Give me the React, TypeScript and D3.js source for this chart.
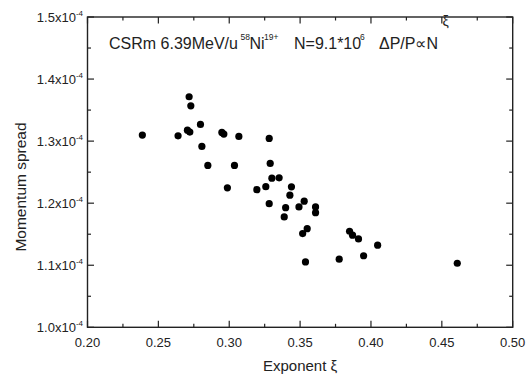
import * as d3 from 'd3';

// Exponent ξ for each measurement
const xi = [
  0.2387, 0.2639, 0.2705, 0.2722, 0.2717, 0.2729, 0.2797, 0.2807, 0.2849, 0.2948,
  0.2962, 0.2987, 0.3037, 0.3068, 0.3282, 0.3289, 0.3301, 0.3352, 0.3195, 0.3258,
  0.3282, 0.3439, 0.3428, 0.3398, 0.3388, 0.3492, 0.3529, 0.3609, 0.3609, 0.3550,
  0.3518, 0.3538, 0.3776, 0.3849, 0.3870, 0.3912, 0.4047, 0.3948, 0.4609,
];

// Momentum spread, in units of 1e-4
const spread = [
  1.3097, 1.3085, 1.3177, 1.3145, 1.3715, 1.3569, 1.3269, 1.2915, 1.2608, 1.3140,
  1.3113, 1.2247, 1.2608, 1.3076, 1.3044, 1.2640, 1.2403, 1.2408, 1.2218, 1.2266,
  1.1992, 1.2263, 1.2129, 1.1927, 1.1779, 1.1940, 1.2032, 1.1939, 1.1847, 1.1589,
  1.1511, 1.1053, 1.1097, 1.1548, 1.1484, 1.1424, 1.1323, 1.1153, 1.1032,
];

const xTicks = [0.2, 0.25, 0.3, 0.35, 0.4, 0.45, 0.5];
const yTicks = [1.0, 1.1, 1.2, 1.3, 1.4, 1.5];

const font = "'Liberation Sans', Arial, sans-serif";
const ink = '#222';

export default function App() {
  const W = 529;
  const H = 376;
  const left = 87.5, right = 512.7, top = 17, bottom = 327.3;

  const x = d3.scaleLinear().domain([0.2, 0.5]).range([left, right]);
  const y = d3.scaleLinear().domain([1.0, 1.5]).range([bottom, top]);

  const xMinor = d3.range(0.225, 0.5, 0.05);
  const yMinor = d3.range(1.05, 1.5, 0.1);
  const major = 6.5;
  const minor = 3.5;

  const pts = xi.map((v, i) => ({ x: v, y: spread[i] }));

  return (
    <svg width={W} height={H} style={{ position: 'absolute', left: 0, top: 0 }} fontFamily={font}>
      <rect width={W} height={H} fill="#fff" />

      {/* ticks, all four sides, pointing in */}
      <g stroke={ink} strokeWidth={1.2}>
        {xTicks.map(t => (
          <g key={'xt' + t}>
            <line x1={x(t)} x2={x(t)} y1={bottom} y2={bottom - major} />
            <line x1={x(t)} x2={x(t)} y1={top} y2={top + major} />
          </g>
        ))}
        {xMinor.map(t => (
          <g key={'xm' + t}>
            <line x1={x(t)} x2={x(t)} y1={bottom} y2={bottom - minor} />
            <line x1={x(t)} x2={x(t)} y1={top} y2={top + minor} />
          </g>
        ))}
        {yTicks.map(t => (
          <g key={'yt' + t}>
            <line x1={left} x2={left + major} y1={y(t)} y2={y(t)} />
            <line x1={right} x2={right - major} y1={y(t)} y2={y(t)} />
          </g>
        ))}
        {yMinor.map(t => (
          <g key={'ym' + t}>
            <line x1={left} x2={left + minor} y1={y(t)} y2={y(t)} />
            <line x1={right} x2={right - minor} y1={y(t)} y2={y(t)} />
          </g>
        ))}
      </g>
      <rect x={left} y={top} width={right - left} height={bottom - top} fill="none" stroke={ink} strokeWidth={1.4} />

      {/* tick labels */}
      <g fill={ink} fontSize={13}>
        {xTicks.map(t => (
          <text key={'xl' + t} x={x(t)} y={bottom + 20} textAnchor="middle">{t.toFixed(2)}</text>
        ))}
        {yTicks.map(t => (
          <text key={'yl' + t} x={left - 4.5} y={y(t) + 4.5} textAnchor="end">
            {t.toFixed(1) + 'x10'}
            <tspan fontSize={8} dy={-6}>-4</tspan>
          </text>
        ))}
      </g>

      {/* axis titles */}
      <text x={(left + right) / 2} y={371} textAnchor="middle" fontSize={15} fill={ink}>Exponent ξ</text>
      <text transform="translate(26,187) rotate(-90)" textAnchor="middle" fontSize={15.5} fill={ink}>Momentum spread</text>

      {/* annotation */}
      <text y={48.5} fontSize={16} fill={ink}>
        <tspan x={109}>CSRm 6.39MeV/u</tspan>
        <tspan x={240.5} y={40} fontSize={8.5}>58</tspan>
        <tspan x={249.5} y={48.5}>Ni</tspan>
        <tspan x={264} y={40} fontSize={8.5}>19+</tspan>
        <tspan x={294} y={48.5}>N=9.1*10</tspan>
        <tspan x={360} y={40} fontSize={8.5}>6</tspan>
        <tspan x={379} y={48.5}>ΔP/P∝N</tspan>
        <tspan x={442.5} y={26} fontSize={14}>ξ</tspan>
      </text>

      {/* data */}
      <g fill="#000">
        {pts.map((d, i) => (
          <circle key={i} cx={x(d.x)} cy={y(d.y)} r={3.6} />
        ))}
      </g>
    </svg>
  );
}
